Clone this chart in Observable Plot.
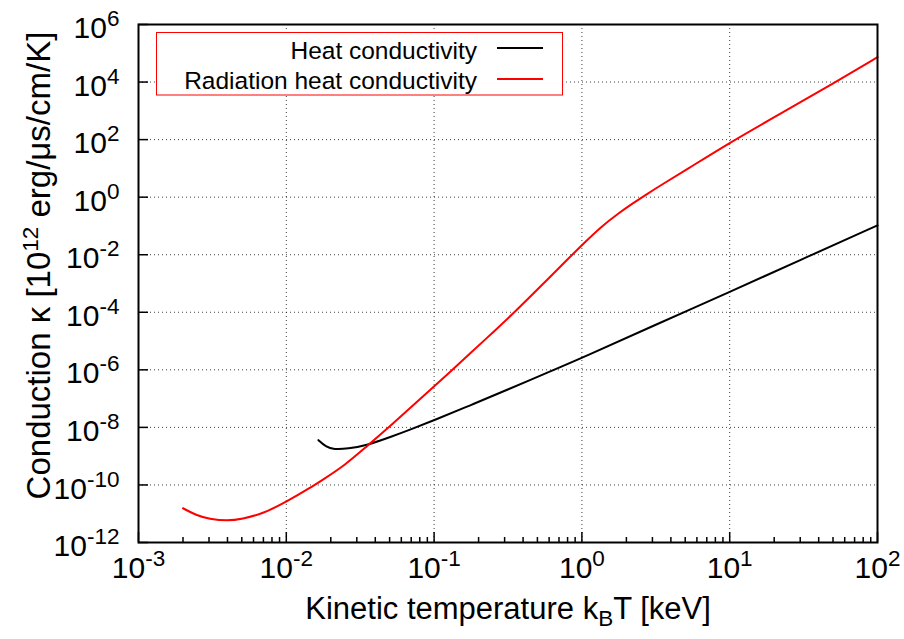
<!DOCTYPE html>
<html><head><meta charset="utf-8">
<script src="https://cdn.jsdelivr.net/npm/d3@7"></script>
<script src="https://cdn.jsdelivr.net/npm/@observablehq/plot@0.6"></script>
<style>body{margin:0;background:#fff;} svg{display:block;}</style>
</head><body><div id="chart"></div>
<script>
// Heat conductivity (black)
const heatT = [0.0165, 0.0185, 0.021, 0.026, 0.0353, 0.051, 0.0695, 0.1, 0.177, 0.3, 0.72, 1, 3, 10, 30, 100];
const heatK = [3.6e-9, 2.1e-9, 1.7e-9, 1.8e-9, 2.4e-9, 4.7e-9, 8.5e-9, 1.78e-8, 5.9e-8, 1.86e-7, 1.26e-6, 2.57e-6, 3.3e-5, 5.1e-4, 6.5e-3, 0.105];
// Radiation heat conductivity (red)
const radT = [0.002, 0.0025, 0.003, 0.004, 0.005, 0.007, 0.01, 0.0146, 0.0175, 0.025, 0.035, 0.049, 0.1, 0.133, 0.177, 0.255, 0.35, 0.53, 0.86, 1, 1.34, 1.78, 2.2, 2.7, 3.5, 5, 10, 20, 52, 100];
const radK = [1.55e-11, 8.5e-12, 6.6e-12, 5.6e-12, 6.5e-12, 1.02e-11, 2.57e-11, 8.1e-11, 1.48e-10, 4.9e-10, 2.2e-9, 9.5e-9, 2.7e-7, 1e-6, 3.9e-6, 2.2e-5, 1e-4, 8.3e-4, 0.01, 0.0214, 0.092, 0.28, 0.6, 1.2, 2.8, 8.5, 78, 600, 1e4, 7.3e4];

const xTickExps = ["-3", "-2", "-1", "0", "1", "2"];
const yTickExps = ["6", "4", "2", "0", "-2", "-4", "-6", "-8", "-10", "-12"];
const seriesNames = ["Heat conductivity", "Radiation heat conductivity"];
const seriesColors = ["#000000", "#ff0000"];
const xTitle = "Kinetic temperature k_{B}T [keV]";
const yTitle = "Conduction κ [10^{12} erg/μs/cm/K]";

const xMajor = xTickExps.map(e => Number("1e" + e));
const yMajor = yTickExps.map(e => Number("1e" + e));
const xMinor = [];
xMajor.slice(0, -1).forEach(v => { for (let m = 2; m <= 9; m++) xMinor.push(m * v); });

const heat = heatT.map((t, i) => ({t, k: heatK[i]}));
const rad = radT.map((t, i) => ({t, k: radK[i]}));

const W = 904, H = 639, mL = 138, mR = 27, mT = 24, mB = 97;
const fH = H - mT - mB, fW = W - mL - mR;
const FONT = "'Liberation Sans', Arial, Helvetica, sans-serif";

const plot = Plot.plot({
  width: W, height: H,
  marginLeft: mL, marginRight: mR, marginTop: mT, marginBottom: mB,
  x: {type: "log", domain: [1e-3, 1e2], axis: null},
  y: {type: "log", domain: [1e-12, 1e6], axis: null},
  style: {background: "#fff", fontFamily: FONT, color: "#000"},
  marks: [
    Plot.ruleX(xMajor.slice(1, -1), {x: d => d, stroke: "#000", strokeWidth: 1, strokeDasharray: "1,3", strokeOpacity: 0.75}),
    Plot.ruleY(yMajor.slice(1, -1), {y: d => d, stroke: "#000", strokeWidth: 1, strokeDasharray: "1,3", strokeOpacity: 0.75}),
    Plot.ruleX(xMajor, {x: d => d, insetTop: fH - 10, stroke: "#000", strokeWidth: 1.5}),
    Plot.ruleX(xMinor, {x: d => d, insetTop: fH - 5, stroke: "#000", strokeWidth: 1.5}),
    Plot.ruleY(yMajor, {y: d => d, insetRight: fW - 10, stroke: "#000", strokeWidth: 1.5}),
    Plot.line(heat, {x: "t", y: "k", stroke: seriesColors[0], strokeWidth: 2, curve: "basis"}),
    Plot.line(rad, {x: "t", y: "k", stroke: seriesColors[1], strokeWidth: 2, curve: "basis"}),
    Plot.frame({stroke: "#000", strokeWidth: 2}),
    Plot.text(xMajor, {x: d => d, frameAnchor: "bottom", text: (d, i) => "10^{" + xTickExps[i] + "}", dy: 35, fontSize: 30, textAnchor: "middle", fill: "#000"}),
    Plot.text(yMajor, {y: d => d, frameAnchor: "left", text: (d, i) => "10^{" + yTickExps[i] + "}", dx: -19, dy: 4, fontSize: 30, textAnchor: "end", fill: "#000"}),
    Plot.text([xTitle], {frameAnchor: "bottom", text: d => d, dy: 76, fontSize: 31, textAnchor: "middle", fill: "#000"}),
    Plot.text([yTitle], {frameAnchor: "left", text: d => d, rotate: -90, dx: -99, dy: -18, fontSize: 33, textAnchor: "middle", fill: "#000"})
  ]
});

// convert ^{..} and _{..} markup into tspans
d3.select(plot).selectAll("text").each(function () {
  const s = this.textContent;
  if (!/[\^_]\{/.test(s)) return;
  const fs = parseFloat(getComputedStyle(this).fontSize) || 30;
  const parts = s.split(/(\^\{[^}]*\}|_\{[^}]*\})/).filter(p => p.length);
  const el = d3.select(this);
  el.text(null);
  let shift = 0;
  parts.forEach(p => {
    let target = 0, txt = p, small = false;
    if (p.startsWith("^{")) { target = -0.4 * fs; txt = p.slice(2, -1); small = true; }
    else if (p.startsWith("_{")) { target = 0.25 * fs; txt = p.slice(2, -1); small = true; }
    const t = el.append("tspan").text(txt);
    const d = target - shift;
    if (d !== 0) t.attr("dy", d);
    shift = target;
    if (small) t.attr("font-size", 0.75 * fs);
  });
});

// legend (key box)
const svg = d3.select(plot);
const lg = svg.append("g").attr("font-family", FONT);
lg.append("rect").attr("x", 156.5).attr("y", 32.5).attr("width", 406).attr("height", 62.5)
  .attr("fill", "#fff").attr("stroke", "#ff0000").attr("stroke-width", 1);
const rowBase = [59.3, 89];
const rowLine = [48, 79];
seriesNames.forEach((name, i) => {
  lg.append("text").attr("x", 477).attr("y", rowBase[i]).attr("text-anchor", "end")
    .attr("font-size", 24.5).attr("fill", "#000").text(name);
  lg.append("line").attr("x1", 497).attr("x2", 543).attr("y1", rowLine[i]).attr("y2", rowLine[i])
    .attr("stroke", seriesColors[i]).attr("stroke-width", 2);
});

document.getElementById("chart").appendChild(plot);
</script>
</body></html>
